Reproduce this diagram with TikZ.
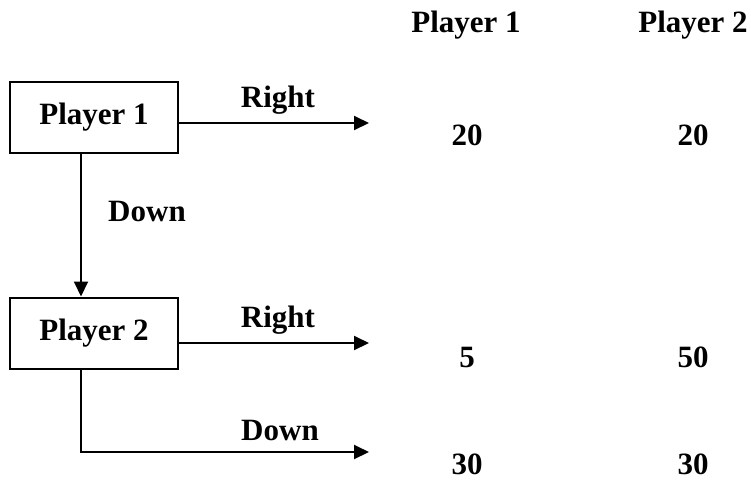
\documentclass[tikz,border=0pt]{standalone}
\usepackage{fontspec}
\setmainfont{Liberation Serif}
\usetikzlibrary{arrows.meta}
\begin{document}
\begin{tikzpicture}[x=1pt,y=-1pt,
  every node/.style={font=\fontsize{31}{34}\selectfont\bfseries, inner sep=0pt},
  playerbox/.style={draw, line width=2pt, minimum width=168pt, minimum height=71pt},
  conn/.style={line width=2pt, -{Triangle[length=15pt,width=14pt]}},
  lbl/.style={anchor=center}]
\useasboundingbox (0,0) rectangle (751,480);
\node[playerbox] (p1) at (94,117.5) {Player 1};
\node[playerbox] (p2) at (94,333) {Player 2};
\coordinate (e1) at (369,123);
\coordinate (e2) at (369,343);
\coordinate (e3) at (369,452);
\coordinate (c3) at (81,452);
\draw[conn] (p1.east |- e1) -- (e1);
\draw[conn] (p1.south -| c3) -- (p2.north -| c3);
\draw[conn] (p2.east |- e2) -- (e2);
\draw[conn] (p2.south -| c3) -- (c3) -- (e3);
\node[lbl] (r1) at (278,100) {Right};
\node[lbl] (d1) at (147,211) {Down};
\node[lbl] (r2) at (278,320) {Right};
\node[lbl] (d2) at (280,430) {Down};
\node[lbl] (h1) at (466,25) {Player 1};
\node[lbl] (h2) at (693,25) {Player 2};
\node[lbl] (a1) at (467,135) {20};
\node[lbl] (a2) at (693,135) {20};
\node[lbl] (b1) at (467,357) {5};
\node[lbl] (b2) at (693,357) {50};
\node[lbl] (c1) at (467,464) {30};
\node[lbl] (cc2) at (693,464) {30};
\end{tikzpicture}
\end{document}
